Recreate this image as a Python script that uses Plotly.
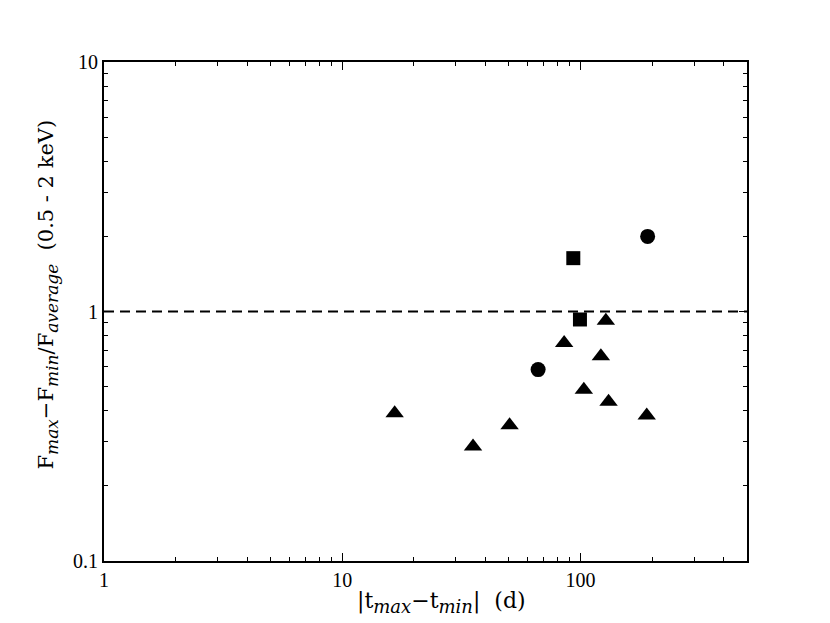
import plotly.graph_objects as go

# |t_max - t_min| (days) and fractional variability
tri_t = [16.6, 35.4, 50.4, 85.4, 103.3, 121.8, 127.8, 131.2, 189.7]
tri_f = [0.391, 0.288, 0.350, 0.748, 0.486, 0.661, 0.919, 0.435, 0.383]

circ_t = [66.4, 191.4]
circ_f = [0.585, 2.0]

sq_t = [93.3, 99.5]
sq_f = [1.636, 0.929]

x_ticks = [1, 10, 100]
y_ticks = [0.1, 1, 10]

FONT = "Liberation Serif"
TFONT = "DejaVu Serif"


def sub(s, size=16):
    return '<sub><span style="font-size:%dpx"><i>%s</i></span></sub>' % (size, s)


fig = go.Figure()

fig.add_trace(go.Scatter(x=tri_t, y=tri_f, mode="markers",
                         marker=dict(symbol="triangle-up", size=16, color="black")))
fig.add_trace(go.Scatter(x=circ_t, y=circ_f, mode="markers",
                         marker=dict(symbol="circle", size=15, color="black")))
fig.add_trace(go.Scatter(x=sq_t, y=sq_f, mode="markers",
                         marker=dict(symbol="square", size=14, color="black")))

# horizontal reference line at 1
fig.add_shape(type="line", xref="paper", x0=0, x1=1, yref="y", y0=1, y1=1,
              line=dict(color="black", width=2, dash="10px,6px"))

axis_common = dict(
    type="log",
    showgrid=False,
    zeroline=False,
    showline=True,
    linecolor="black",
    linewidth=2,
    mirror="allticks",
    ticks="inside",
    ticklen=8,
    tickwidth=1,
    tickcolor="black",
    tickmode="array",
    tickfont=dict(family=FONT, size=20, color="black"),
)

fig.update_xaxes(
    **axis_common,
    range=[0, 2.699],
    tickvals=x_ticks,
    ticktext=[str(v) for v in x_ticks],
    minor=dict(ticks="inside", ticklen=4, tickcolor="black",
               tickmode="array",
               tickvals=[m * d for d in (1, 10, 100) for m in range(2, 10) if m * d < 500]),
)
fig.update_yaxes(
    **axis_common,
    range=[-1, 1],
    tickvals=y_ticks,
    ticktext=["0.1", "1", "10"],
    minor=dict(ticks="inside", ticklen=4, tickcolor="black",
               tickmode="array",
               tickvals=[m * d for d in (0.1, 1) for m in range(2, 10)]),
)

# axis titles
fig.add_annotation(
    text="|t" + sub("max", 18) + "−t" + sub("min", 18) + "|  (d)",
    xref="paper", yref="paper", x=0.5, y=0, xanchor="center", yanchor="top",
    xshift=16, yshift=-25, showarrow=False,
    font=dict(family=TFONT, size=22, color="black"),
)
fig.add_annotation(
    text="F" + sub("max", 17) + "−F" + sub("min", 17) + "/F" + sub("average", 17) + "  (0.5 - 2 keV)",
    xref="paper", yref="paper", x=0, y=0.55, xanchor="center", yanchor="middle",
    xshift=-56, yshift=-8, textangle=-90, showarrow=False,
    font=dict(family=TFONT, size=21, color="black"),
)

fig.update_layout(
    width=830, height=623,
    showlegend=False,
    plot_bgcolor="white",
    paper_bgcolor="white",
    margin=dict(l=96, r=91, t=54, b=70),
)

fig.write_html("out.html")
